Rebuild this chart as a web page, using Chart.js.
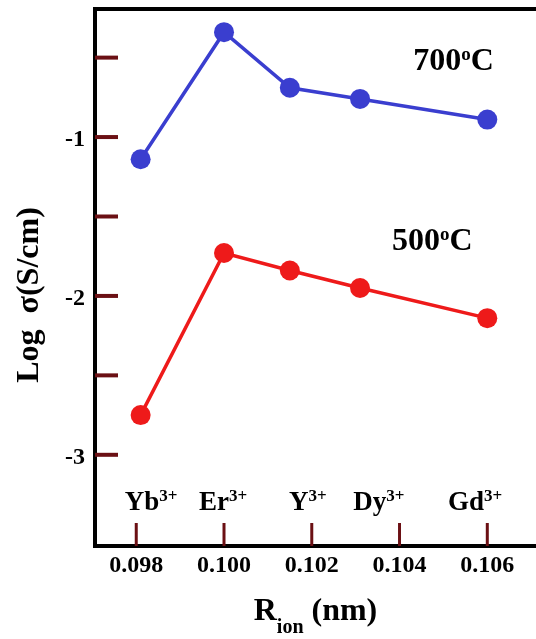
<!DOCTYPE html>
<html>
<head>
<meta charset="utf-8">
<title>Log σ vs R_ion</title>
<script src="https://cdn.jsdelivr.net/npm/chart.js@4.4.1/dist/chart.umd.min.js"></script>
<style>
  html, body { margin: 0; padding: 0; background: #fff; }
  #wrap { width: 536px; height: 639px; }
</style>
</head>
<body>
<div id="wrap"><canvas id="chartConductivity" width="536" height="639"></canvas></div>
<script>
// dopant ions and their radii (nm)
const ions = ['Yb', 'Er', 'Y', 'Dy', 'Gd']
const ionRadius = [0.0981, 0.1000, 0.1015, 0.1031, 0.1060]

// log conductivity, S/cm
const logSigma700 = [-1.14, -0.34, -0.69, -0.76, -0.89]
const logSigma500 = [-2.75, -1.73, -1.84, -1.95, -2.14]

const xTicks = [0.098, 0.100, 0.102, 0.104, 0.106]
const yTicks = [-3, -2.5, -2, -1.5, -1, -0.5]
const yLabels = [-3, -2, -1]

// where the ion names and temperatures are written, in axis units
const ionLabelAt = [0.09834, 0.09998, 0.10191, 0.10353, 0.10572]
const tempLabels = [
  { temp: '700', x: 0.10431, y: -0.578 },
  { temp: '500', x: 0.10383, y: -1.711 },
]

document.addEventListener('DOMContentLoaded', function () {
  const serif = '"Liberation Serif", "Times New Roman", serif'
  const blue = '#3a3ecf'
  const red = '#ee1a1a'
  const tickColor = '#6b1014'

  function bold(size) {
    return `bold ${size}px ${serif}`
  }

  // draws a row of text pieces (normal / raised / lowered) starting at x
  function drawRuns(ctx, runs, x, y, align) {
    let total = 0
    runs.forEach(r => {
      ctx.font = r.font
      r.w = ctx.measureText(r.text).width
      total += r.w
    })
    let cx = align === 'center' ? x - total / 2 : x
    ctx.textAlign = 'left'
    ctx.textBaseline = 'alphabetic'
    runs.forEach(r => {
      ctx.font = r.font
      ctx.fillText(r.text, cx, y + (r.dy || 0))
      cx += r.w
    })
  }

  // keep the plot box fixed: no extra room for end labels
  function noPadding(scale) {
    scale.paddingTop = 0
    scale.paddingBottom = 0
    scale.paddingLeft = 0
    scale.paddingRight = 0
  }

  const decorations = {
    id: 'decorations',
    afterDraw(chart) {
      const { ctx, chartArea } = chart
      const xs = chart.scales.x
      const ys = chart.scales.y
      ctx.save()

      // top frame line
      ctx.strokeStyle = '#000'
      ctx.lineWidth = 4
      ctx.beginPath()
      ctx.moveTo(chartArea.left - 2, chartArea.top)
      ctx.lineTo(chart.width, chartArea.top)
      ctx.stroke()

      // inward tick marks
      ctx.strokeStyle = tickColor
      ctx.lineWidth = 4
      yTicks.forEach(v => {
        const py = ys.getPixelForValue(v)
        ctx.beginPath()
        ctx.moveTo(chartArea.left, py)
        ctx.lineTo(chartArea.left + 23, py)
        ctx.stroke()
      })
      ctx.lineWidth = 3
      xTicks.forEach(v => {
        const px = xs.getPixelForValue(v)
        ctx.beginPath()
        ctx.moveTo(px, chartArea.bottom)
        ctx.lineTo(px, chartArea.bottom - 23)
        ctx.stroke()
      })

      ctx.fillStyle = '#000'

      // ion names with charge
      ions.forEach((ion, i) => {
        drawRuns(ctx, [
          { text: ion, font: bold(27) },
          { text: '3+', font: bold(17), dy: -9 },
        ], xs.getPixelForValue(ionLabelAt[i]), 510, 'center')
      })

      // temperature labels
      tempLabels.forEach(t => {
        drawRuns(ctx, [
          { text: t.temp, font: bold(32) },
          { text: 'o', font: bold(19), dy: -10 },
          { text: 'C', font: bold(32) },
        ], xs.getPixelForValue(t.x), ys.getPixelForValue(t.y), 'left')
      })

      // axis titles
      drawRuns(ctx, [
        { text: 'R', font: bold(32) },
        { text: 'ion', font: bold(20), dy: 13 },
        { text: ' (nm)', font: bold(32) },
      ], (chartArea.left + chartArea.right) / 2, 620, 'center')

      ctx.translate(30, 295)
      ctx.rotate(-Math.PI / 2)
      ctx.font = bold(32)
      ctx.textAlign = 'center'
      ctx.textBaseline = 'middle'
      ctx.fillText('Log  σ(S/cm)', 0, 0)

      ctx.restore()
    },
  }

  const ctx = document.getElementById('chartConductivity').getContext('2d')
  new Chart(ctx, {
    type: 'line',
    data: {
      datasets: [
        {
          label: '700 °C',
          data: ionRadius.map((x, i) => ({ x, y: logSigma700[i] })),
          borderColor: blue,
          backgroundColor: blue,
          borderWidth: 3.5,
          pointRadius: 10,
          pointHoverRadius: 10,
          pointBorderWidth: 0,
          tension: 0,
        },
        {
          label: '500 °C',
          data: ionRadius.map((x, i) => ({ x, y: logSigma500[i] })),
          borderColor: red,
          backgroundColor: red,
          borderWidth: 3.5,
          pointRadius: 10,
          pointHoverRadius: 10,
          pointBorderWidth: 0,
          tension: 0,
        },
      ],
    },
    options: {
      responsive: false,
      animation: false,
      devicePixelRatio: 1,
      layout: { autoPadding: false, padding: { top: 9, right: 0, bottom: 0, left: 0 } },
      plugins: {
        legend: { display: false },
        tooltip: { enabled: false },
      },
      scales: {
        x: {
          type: 'linear',
          min: 0.09706,
          max: 0.10711,
          afterBuildTicks: scale => {
            scale.ticks = xTicks.map(v => ({ value: v }))
          },
          afterFit: scale => {
            scale.height = 93
            noPadding(scale)
          },
          grid: { display: false, drawTicks: false },
          border: { display: true, color: '#000', width: 4 },
          ticks: {
            padding: 5,
            color: '#000',
            autoSkip: false,
            maxRotation: 0,
            font: { family: serif, size: 24, weight: 'bold' },
            callback: v => v.toFixed(3),
          },
        },
        y: {
          type: 'linear',
          min: -3.574,
          max: -0.194,
          afterBuildTicks: scale => {
            scale.ticks = yLabels.map(v => ({ value: v }))
          },
          afterFit: scale => {
            scale.width = 95
            noPadding(scale)
          },
          grid: { display: false, drawTicks: false },
          border: { display: true, color: '#000', width: 4 },
          ticks: {
            padding: 10,
            color: '#000',
            labelOffset: 3,
            font: { family: serif, size: 24, weight: 'bold' },
            callback: v => String(v),
          },
        },
      },
    },
    plugins: [decorations],
  })
})
</script>
</body>
</html>
